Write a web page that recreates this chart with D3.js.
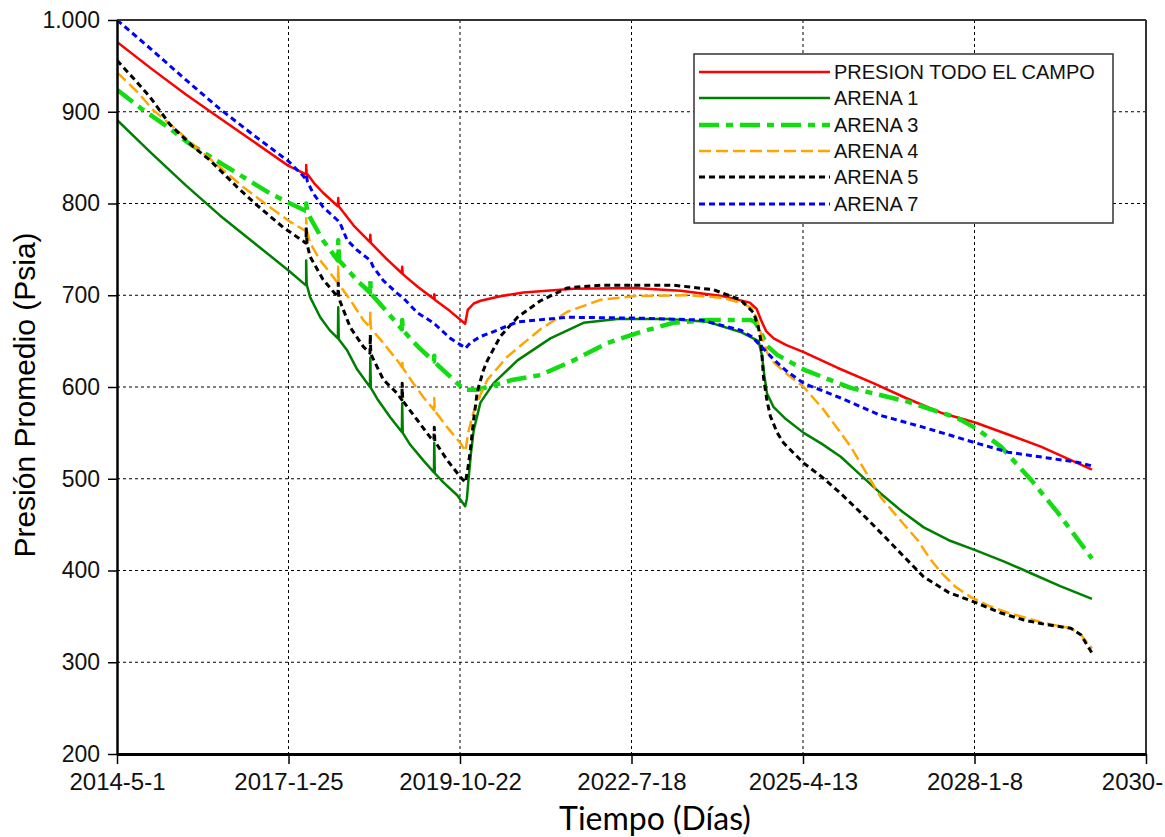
<!DOCTYPE html>
<html>
<head>
<meta charset="utf-8">
<script src="https://cdn.jsdelivr.net/npm/d3@7"></script>
<style>
  html, body { margin: 0; padding: 0; background: #fff; }
  svg { display: block; }
</style>
</head>
<body>
<svg id="chart" width="1165" height="837"></svg>
<script>
// ---------------- DATA ----------------
const seriesNames = ["PRESION TODO EL CAMPO", "ARENA 1", "ARENA 3", "ARENA 4", "ARENA 5", "ARENA 7"];
const xTickDays = [0, 1000, 2000, 3000, 4000, 5000, 6000];
const xTickLabels = ["2014-5-1", "2017-1-25", "2019-10-22", "2022-7-18", "2025-4-13", "2028-1-8", "2030-"];
const yTickValues = [200, 300, 400, 500, 600, 700, 800, 900, 1000];

// [days since 2014-5-1, psia]
const presionCampo = [
  [0,976],[200,947],[400,919],[600,893],[800,867],[1000,841],[1100,832],
  [1103,832],[1103,842],[1106,833],[1150,822],[1200,812],[1288,797],[1290,806],[1293,797],
  [1380,776],[1475,758],[1477,766],[1480,757],[1570,740],[1661,724],[1663,731],[1666,723],
  [1755,709],[1848,696],[1850,701],[1853,695],[1940,683],[2030,669],
  [2045,684],[2080,691],[2120,694],[2235,699],[2370,703],[2662,707],[3012,708],[3286,705],
  [3537,699],[3690,692],[3730,685],[3755,673],[3785,661],[3829,653],[3900,646],[4004,638],
  [4200,621],[4413,604],[4600,588],[4804,572],[5008,561],[5200,548],[5387,535],[5685,510]
];
const arena1 = [
  [0,891],[200,855],[400,820],[600,787],[800,757],[1000,727],[1100,711],
  [1103,711],[1103,738],[1106,712],[1126,698],[1185,676],[1240,662],[1288,653],[1290,687],[1293,652],
  [1342,640],[1401,619],[1475,600],[1477,632],[1480,599],[1518,587],[1593,567],[1661,551],[1663,582],[1666,550],
  [1710,537],[1786,520],[1848,507],[1850,539],[1853,506],[1903,496],[1984,482],[2030,470],
  [2040,478],[2050,500],[2065,530],[2080,553],[2119,583],[2195,604],[2335,629],[2527,653],[2720,670],
  [2918,674],[3210,674],[3444,671],[3636,660],[3741,650],[3760,635],[3775,612],[3790,593],[3829,578],
  [3900,565],[4004,550],[4110,538],[4220,524],[4330,505],[4453,484],[4580,464],[4704,447],
  [4850,433],[5008,422],[5170,410],[5329,397],[5500,383],[5685,369]
];
const arena3 = [
  [0,924],[152,902],[292,884],[409,867],[543,851],[735,829],[893,811],[1010,800],[1100,792],
  [1103,792],[1103,800],[1110,790],[1200,760],[1288,738],[1290,760],[1295,738],[1401,716],
  [1475,703],[1477,716],[1480,702],[1560,685],[1661,663],[1663,673],[1666,662],[1760,643],
  [1848,628],[1850,634],[1853,627],[1961,608],[2020,598],[2031,597],[2101,597],[2160,600],
  [2311,608],[2469,613],[2662,629],[2860,648],[3053,660],[3245,670],[3444,673],[3695,673],
  [3720,671],[3753,660],[3790,645],[3850,635],[4004,619],[4278,599],[4611,584],[4903,566],
  [5008,555],[5154,535],[5329,499],[5486,463],[5685,413]
];
const arena4 = [
  [0,943],[117,922],[210,902],[350,880],[444,864],[584,842],[735,818],[876,798],[1010,780],[1100,770],
  [1103,770],[1103,784],[1108,770],[1126,757],[1185,738],[1261,720],[1288,713],[1290,731],[1293,712],
  [1360,695],[1436,673],[1475,665],[1477,681],[1480,664],[1553,648],[1634,629],[1661,622],[1663,629],[1666,621],
  [1728,604],[1786,589],[1848,575],[1850,588],[1853,574],[1926,556],[2002,539],[2031,530],
  [2050,552],[2078,572],[2120,592],[2160,608],[2276,633],[2469,663],[2626,682],[2819,695],[3012,699],
  [3344,700],[3537,697],[3650,691],[3700,686],[3730,675],[3760,655],[3790,638],[3829,627],[3900,615],
  [4004,600],[4121,575],[4278,535],[4453,480],[4580,452],[4669,433],[4740,413],[4804,398],[4890,382],
  [4979,371],[5090,361],[5195,354],[5400,343],[5562,337],[5620,330],[5685,315]
];
const arena5 = [
  [0,956],[93,937],[193,916],[309,886],[444,862],[543,847],[700,818],[817,798],[969,774],[1100,757],
  [1103,757],[1103,774],[1108,756],[1126,742],[1202,717],[1288,698],[1290,713],[1293,697],
  [1360,665],[1436,644],[1475,637],[1477,657],[1480,636],[1553,608],[1634,593],[1661,586],[1663,604],[1666,585],
  [1751,564],[1827,545],[1848,542],[1850,556],[1853,541],[1926,520],[2002,502],[2031,496],
  [2045,510],[2060,531],[2080,565],[2101,595],[2136,618],[2160,629],[2235,655],[2335,676],[2469,694],
  [2626,708],[2819,711],[3245,711],[3479,706],[3636,695],[3712,681],[3740,665],[3755,650],[3770,610],
  [3790,585],[3810,568],[3850,550],[3887,539],[4004,517],[4110,502],[4220,484],[4370,457],[4512,430],
  [4610,411],[4704,393],[4850,376],[5008,365],[5150,354],[5288,346],[5420,341],[5562,337],[5620,330],[5685,310]
];
const arena7 = [
  [0,1000],[200,968],[400,935],[600,903],[800,874],[1000,846],[1086,830],[1103,826],
  [1106,829],[1110,824],[1144,811],[1202,796],[1284,782],[1290,781],[1302,778],[1342,760],
  [1401,749],[1477,738],[1494,731],[1553,716],[1634,702],[1669,697],[1751,681],[1844,670],
  [1944,653],[2020,644],[2031,642],[2060,648],[2119,655],[2177,659],[2335,671],[2626,676],
  [3053,675],[3403,673],[3636,662],[3700,655],[3753,645],[3829,630],[3900,618],[4004,604],
  [4220,588],[4453,569],[4704,556],[5008,539],[5195,529],[5450,522],[5600,518],[5685,514]
];

// ---------------- STYLES ----------------
const styles = [
  { color: "#ff0000", width: 2.5, dash: null },
  { color: "#008000", width: 2.5, dash: null },
  { color: "#11dd11", width: 4.5, dash: "20,7,7,7" },
  { color: "#ffa500", width: 2.5, dash: "12,5" },
  { color: "#000000", width: 3,   dash: "6,4" },
  { color: "#0000ff", width: 3,   dash: "6,4" }
];
const allSeries = [presionCampo, arena1, arena3, arena4, arena5, arena7];

// ---------------- CHART ----------------
const svg = d3.select("#chart");
const L = 117, R = 1146, T = 20, B = 754;
const x = d3.scaleLinear().domain([0, 6000]).range([L, R]);
const y = d3.scaleLinear().domain([200, 1000]).range([B, T]);
const FONT = "'Liberation Sans', Arial, sans-serif";

// grid
const grid = svg.append("g").attr("stroke", "#000").attr("stroke-width", 1).attr("stroke-dasharray", "3,3");
xTickDays.slice(1, -1).forEach(d => {
  grid.append("line").attr("x1", x(d)).attr("x2", x(d)).attr("y1", y(1000)).attr("y2", y(200));
});
yTickValues.slice(1, -1).forEach(v => {
  grid.append("line").attr("x1", x(0)).attr("x2", x(6000)).attr("y1", y(v)).attr("y2", y(v));
});

// clip
svg.append("clipPath").attr("id", "plotclip").append("rect")
  .attr("x", L).attr("y", T).attr("width", R - L).attr("height", B - T);

const line = d3.line().x(d => x(d[0])).y(d => y(d[1])).curve(d3.curveLinear);
const lines = svg.append("g").attr("clip-path", "url(#plotclip)");
allSeries.forEach((s, i) => {
  const st = styles[i];
  lines.append("path").datum(s)
    .attr("d", line)
    .attr("fill", "none")
    .attr("stroke", st.color)
    .attr("stroke-width", st.width)
    .attr("stroke-linejoin", "round")
    .attr("stroke-dasharray", st.dash);
});

// frame (top & right)
svg.append("line").attr("x1", L).attr("x2", R).attr("y1", T).attr("y2", T).attr("stroke", "#333").attr("stroke-width", 2);
svg.append("line").attr("x1", R).attr("x2", R).attr("y1", T).attr("y2", B).attr("stroke", "#333").attr("stroke-width", 2);

// axes
const esFmt = d3.formatLocale({ decimal: ",", thousands: ".", grouping: [3], currency: ["", ""] }).format(",");
const yAxis = d3.axisLeft(y).tickValues(yTickValues).tickSize(9).tickSizeOuter(0).tickPadding(8).tickFormat(esFmt);
const gy = svg.append("g").attr("transform", `translate(${L},0)`).call(yAxis);
gy.select(".domain").attr("stroke", "#000").attr("stroke-width", 2.5);
gy.selectAll(".tick line").attr("stroke", "#000").attr("stroke-width", 1.5);
gy.selectAll(".tick text").attr("font-family", FONT).attr("font-size", 23).attr("fill", "#111");

const xAxis = d3.axisBottom(x).tickValues(xTickDays).tickSize(10).tickSizeOuter(0).tickPadding(9)
  .tickFormat((d, i) => xTickLabels[i]);
const gx = svg.append("g").attr("transform", `translate(0,${B})`).call(xAxis);
gx.select(".domain").attr("stroke", "#000").attr("stroke-width", 3);
gx.selectAll(".tick line").attr("stroke", "#000").attr("stroke-width", 1.5);
gx.selectAll(".tick text").attr("font-family", FONT).attr("font-size", 24).attr("fill", "#111");
gx.selectAll(".tick text").filter((d, i) => i === xTickDays.length - 1).attr("dx", -14);

// axis titles
svg.append("text")
  .attr("transform", `translate(35,${(T + B) / 2 + 8}) rotate(-90)`)
  .attr("text-anchor", "middle")
  .attr("font-family", FONT).attr("font-size", 30).attr("fill", "#000")
  .text("Presión Promedio  (Psia)");
svg.append("text")
  .attr("x", 655).attr("y", 830)
  .attr("text-anchor", "middle")
  .attr("font-family", "Lato, 'Open Sans', sans-serif").attr("font-size", 32).attr("fill", "#000")
  .text("Tiempo (Días)");

// legend
const lg = svg.append("g");
lg.append("rect").attr("x", 694).attr("y", 54).attr("width", 419).attr("height", 169)
  .attr("fill", "#fff").attr("stroke", "#333").attr("stroke-width", 1.5);
const legendY = [72, 98, 125, 151, 177, 204];
seriesNames.forEach((name, i) => {
  const st = styles[i];
  lg.append("line").attr("x1", 699).attr("x2", 830).attr("y1", legendY[i]).attr("y2", legendY[i])
    .attr("stroke", st.color).attr("stroke-width", st.width).attr("stroke-dasharray", st.dash);
  lg.append("text").attr("x", 834).attr("y", legendY[i] + 7)
    .attr("font-family", FONT).attr("font-size", 20).attr("fill", "#111").text(name);
});
</script>
</body>
</html>
